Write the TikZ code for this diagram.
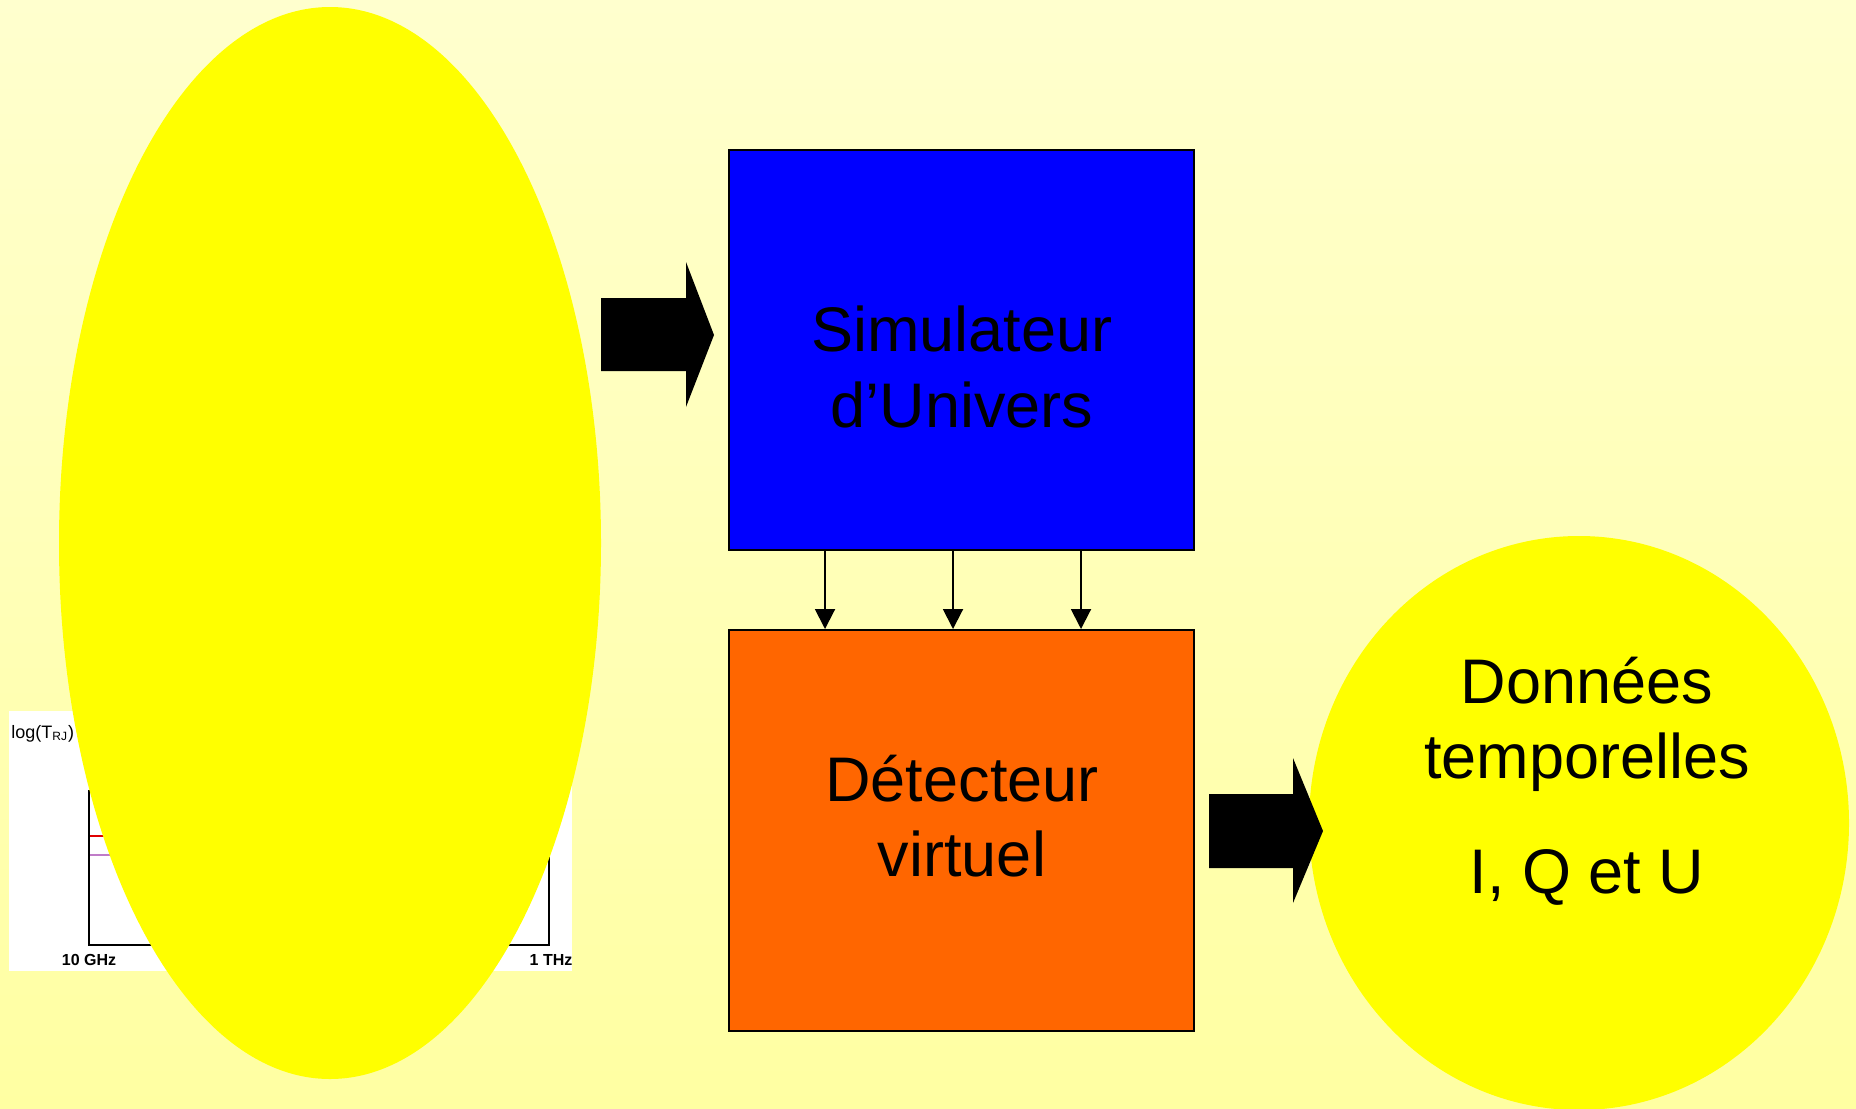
\documentclass[tikz,border=0pt]{standalone}
\usepackage{fontspec}
\setmainfont{Liberation Sans}
\usetikzlibrary{arrows.meta,shapes.geometric}
\definecolor{bgtop}{HTML}{FFFFCE}
\definecolor{bgbot}{HTML}{FFFFA2}
\definecolor{boxblue}{HTML}{0000FF}
\definecolor{boxorange}{HTML}{FF6600}
\definecolor{blobyellow}{HTML}{FFFF00}
\definecolor{plotred}{HTML}{E00000}
\definecolor{plotviolet}{HTML}{C07CC8}
\tikzset{
  blob/.style={ellipse, fill=blobyellow, draw=none, inner sep=0pt},
  stagebox/.style={rectangle, draw=black, line width=1pt, inner sep=0pt},
  bigtext/.style={font=\fontsize{31.5}{37}\selectfont, inner sep=0pt, anchor=base, text=black},
  flowarrow/.style={-{Triangle[length=10pt,width=10pt]}, line width=1pt, black},
  blockarrow/.style={fill=black, draw=none},
  axisline/.style={line width=1.1pt, black},
}
\begin{document}
\begin{tikzpicture}[x=0.5pt,y=-0.5pt]
% background
\shade[top color=bgtop, bottom color=bgbot] (0,0) rectangle (1856,1108);
\useasboundingbox (0,0) rectangle (1856,1108);

% small plot (mostly hidden)
\fill[white] (9,711) rectangle (572,971);
\node[font=\fontsize{9}{10}\selectfont, anchor=base west, inner sep=0pt] (plotlabel) at (11,738) {log(T\textsubscript{RJ})};
\draw[axisline] (89,790) -- (89,945) -- (549,945) -- (549,790);
\draw[plotred, line width=1.2pt] (90,836) -- (200,836);
\draw[plotviolet, line width=1.2pt] (90,855) -- (200,855);
\node[font=\bfseries\fontsize{8}{9}\selectfont, anchor=base, inner sep=0pt] (flow) at (89,965) {10 GHz};
\node[font=\bfseries\fontsize{8}{9}\selectfont, anchor=base, inner sep=0pt] (fhigh) at (551,965) {1 THz};

% left yellow ellipse
\node[blob, minimum width=271pt, minimum height=536pt] (src) at (330,543) {};

% block arrow into simulator
\path[blockarrow] (601,298) -- (686,298) -- (686,262) -- (714,335) -- (686,407) -- (686,371) -- (601,371) -- cycle;

% boxes
\node[stagebox, fill=boxblue, minimum width=232.5pt, minimum height=200pt] (sim) at (961.5,350) {};
\node[stagebox, fill=boxorange, minimum width=232.5pt, minimum height=200.5pt] (det) at (961.5,830.5) {};

% connectors
\draw[flowarrow] ([xshift=48.5pt]sim.south west) -- ([xshift=48.5pt]det.north west);
\draw[flowarrow] ([xshift=112.5pt]sim.south west) -- ([xshift=112.5pt]det.north west);
\draw[flowarrow] ([xshift=176.5pt]sim.south west) -- ([xshift=176.5pt]det.north west);

% right yellow ellipse
\node[blob, minimum width=270pt, minimum height=287pt] (data) at (1579,823) {};

% block arrow into data
\path[blockarrow] (1209,794) -- (1293,794) -- (1293,758) -- (1323,831) -- (1293,903) -- (1293,868) -- (1209,868) -- cycle;

% texts
\node[bigtext] (simA) at (962,351) {Simulateur};
\node[bigtext] (simB) at (962,427) {d’Univers};
\node[bigtext] (detA) at (962,801) {Détecteur};
\node[bigtext] (detB) at (962,876) {virtuel};
\node[bigtext] (datA) at (1587,703) {Données};
\node[bigtext] (datB) at (1587,778) {temporelles};
\node[bigtext] (datC) at (1587,893) {I, Q et U};
\end{tikzpicture}
\end{document}
